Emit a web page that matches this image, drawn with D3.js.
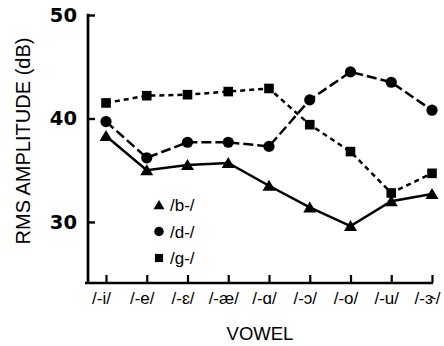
<!DOCTYPE html>
<html><head><meta charset="utf-8">
<script src="https://cdn.jsdelivr.net/npm/d3@7"></script>
<style>
html,body{margin:0;padding:0;background:#fff;}
svg{display:block;}
text{fill:#000;}
</style>
</head><body>
<svg id="c" width="444" height="346"></svg>
<script>
const categories = ["/-i/", "/-e/", "/-\u025B/", "/-\u00E6/", "/-\u0251/", "/-\u0254/", "/-o/", "/-u/", "/-\u025D/"];
const seriesNames = ["/b-/", "/d-/", "/g-/"];
const bValues = [38.3, 35.0, 35.5, 35.7, 33.5, 31.4, 29.6, 32.0, 32.7];
const dValues = [39.7, 36.2, 37.7, 37.7, 37.3, 41.8, 44.5, 43.5, 40.8];
const gValues = [41.5, 42.2, 42.3, 42.6, 42.9, 39.4, 36.8, 32.8, 34.7];
const yTicks = [30, 40, 50];
const yTitle = "RMS AMPLITUDE (dB)";
const xTitle = "VOWEL";

const svg = d3.select("#c");
const x = d3.scalePoint().domain(categories).range([106, 432]);
const y = d3.scaleLinear().domain([24.1, 50]).range([283, 15]);

// axes
const yAxis = d3.axisLeft(y).tickValues(yTicks).tickSize(-7).tickSizeOuter(0).tickPadding(11);
const gy = svg.append("g").attr("transform", "translate(88,0)").call(yAxis);
gy.select(".domain").remove();
gy.selectAll(".tick line").attr("stroke", "#000").attr("stroke-width", 2.4);
gy.selectAll(".tick text").attr("font-family", "DejaVu Sans").attr("font-weight", "bold").attr("font-size", 19.5).attr("fill", "#000");
svg.append("line").attr("x1", 88).attr("x2", 88).attr("y1", y(50) - 1.2).attr("y2", y.range()[0] + 1)
  .attr("stroke", "#000").attr("stroke-width", 2.7);

const xAxis = d3.axisBottom(x).tickSize(-8).tickSizeOuter(0).tickPadding(9);
const gx = svg.append("g").attr("transform", "translate(0,283)").call(xAxis);
gx.select(".domain").remove();
gx.selectAll(".tick line").attr("stroke", "#000").attr("stroke-width", 2.2);
gx.selectAll(".tick text").attr("font-family", "Liberation Sans, Arial, sans-serif").attr("font-size", 17)
  .attr("dx", -5).attr("fill", "#000");
svg.append("line").attr("x1", 85).attr("x2", x(categories[categories.length - 1]) + 1)
  .attr("y1", 283).attr("y2", 283).attr("stroke", "#000").attr("stroke-width", 2.7);

// titles
svg.append("text").attr("transform", "translate(30,141) rotate(-90)").attr("text-anchor", "middle")
  .attr("font-family", "Liberation Sans, Arial, sans-serif").attr("font-size", 20)
  .attr("textLength", 207).attr("lengthAdjust", "spacingAndGlyphs").text(yTitle);
svg.append("text").attr("x", 260).attr("y", 340).attr("text-anchor", "middle")
  .attr("font-family", "Liberation Sans, Arial, sans-serif").attr("font-size", 18.5).text(xTitle);

// series
const series = [
  {name: seriesNames[0], values: bValues, dash: null, shape: "tri"},
  {name: seriesNames[1], values: dValues, dash: "10,4", shape: "circ"},
  {name: seriesNames[2], values: gValues, dash: "5,4", shape: "sq"}
];
const line = d3.line().x((d, i) => x(categories[i])).y(d => y(d));

function marker(g, shape, cx, cy, s) {
  if (shape === "tri") {
    g.append("path").attr("d", `M${cx},${cy - 6 * s}L${cx + 6.5 * s},${cy + 5 * s}L${cx - 6.5 * s},${cy + 5 * s}Z`).attr("fill", "#000");
  } else if (shape === "circ") {
    g.append("circle").attr("cx", cx).attr("cy", cy).attr("r", 5.6 * s).attr("fill", "#000");
  } else {
    g.append("rect").attr("x", cx - 4.8 * s).attr("y", cy - 4.8 * s).attr("width", 9.6 * s).attr("height", 9.6 * s).attr("fill", "#000");
  }
}

series.forEach(s => {
  svg.append("path").attr("d", line(s.values)).attr("fill", "none").attr("stroke", "#000")
    .attr("stroke-width", 2.5).attr("stroke-dasharray", s.dash);
  const g = svg.append("g");
  s.values.forEach((v, i) => marker(g, s.shape, x(categories[i]), y(v), 1));
});

// legend
series.forEach((s, i) => {
  const ly = 205 + i * 26.5;
  const g = svg.append("g");
  marker(g, s.shape, 159, ly, 0.85);
  svg.append("text").attr("x", 170).attr("y", ly + 6).attr("font-family", "Liberation Sans, Arial, sans-serif")
    .attr("font-size", 17).text(s.name);
});
</script>
</body></html>
